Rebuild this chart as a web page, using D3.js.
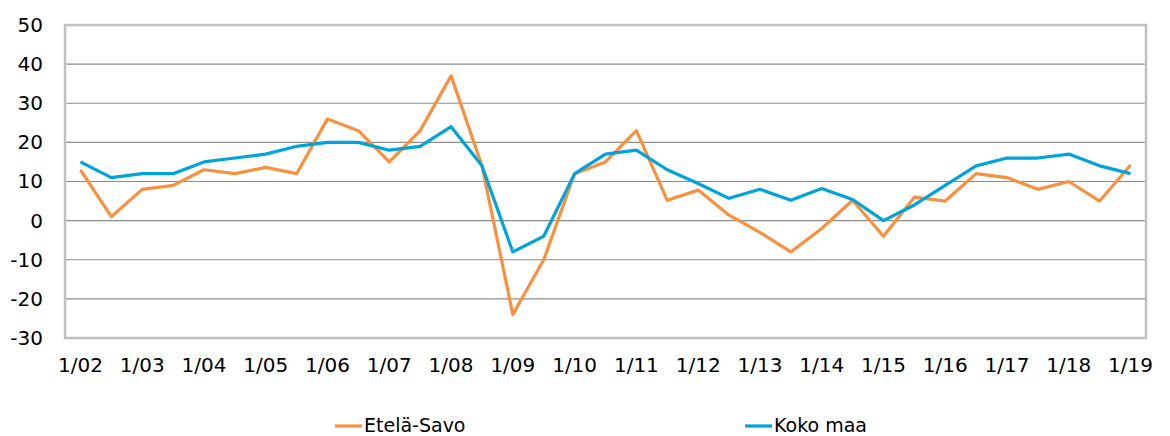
<!DOCTYPE html>
<html>
<head>
<meta charset="utf-8">
<script src="https://cdn.jsdelivr.net/npm/d3@7"></script>
<style>
  body { margin: 0; background: #fff; }
  text { font-family: "DejaVu Sans", sans-serif; fill: #000; }
</style>
</head>
<body>
<div id="chart"></div>
<script>
// half-year periods 1/02 ... 1/19
const years = ["02","03","04","05","06","07","08","09","10","11","12","13","14","15","16","17","18","19"];
const periods = [];
years.forEach((y, i) => {
    periods.push("1/" + y);
    if (i < years.length - 1) periods.push("7/" + y);
});
const tickLabels = years.map(y => "1/" + y);

const etelaSavo = [13, 1, 8, 9, 13, 12, 13.6, 12, 26, 23, 15, 23, 37, 14, -24, -10, 12, 15, 23, 5.2,
    7.8, 1.4, -3, -8, -2, 5.2, -4, 6, 5, 12, 11, 8, 10, 5, 14.2];
const kokoMaa = [15, 11, 12, 12, 15, 16, 17, 19, 20, 20, 18, 19, 24, 14, -8, -4, 12, 17, 18, 13,
    9.5, 5.7, 8, 5.2, 8.2, 5.4, 0, 4, 9, 14, 16, 16, 17, 14, 12];

const series = [
    { name: "Etelä-Savo", values: etelaSavo, color: "#F7913F" },
    { name: "Koko maa", values: kokoMaa, color: "#00A3DA" }
];

const width = 1170, height = 436;
const margin = { top: 25, right: 24, bottom: 98, left: 65 };

const svg = d3.select("#chart").append("svg")
    .attr("width", width)
    .attr("height", height);

const x = d3.scaleBand()
    .domain(periods)
    .range([margin.left, width - margin.right]);

const y = d3.scaleLinear()
    .domain([-30, 50])
    .range([height - margin.bottom, margin.top]);

// gridlines
svg.append("g")
    .selectAll("line")
    .data(y.ticks(8))
    .join("line")
    .attr("x1", margin.left)
    .attr("x2", width - margin.right)
    .attr("y1", d => y(d))
    .attr("y2", d => y(d))
    .attr("stroke", "#8c8c8c")
    .attr("stroke-width", 1.2);

// plot border
svg.append("rect")
    .attr("x", margin.left)
    .attr("y", margin.top)
    .attr("width", width - margin.right - margin.left)
    .attr("height", height - margin.bottom - margin.top)
    .attr("fill", "none")
    .attr("stroke", "#c0c0c0")
    .attr("stroke-width", 2.5);

// y axis labels (plain hyphen for negatives, as in the original)
const yAxis = d3.axisLeft(y).ticks(8).tickSize(0).tickPadding(22)
    .tickFormat(d => String(d));
const yg = svg.append("g")
    .attr("transform", `translate(${margin.left},0)`)
    .call(yAxis);
yg.select(".domain").remove();
yg.selectAll("text").style("font-size", "20px").attr("fill", "#000");

// x axis labels
const xAxis = d3.axisBottom(x)
    .tickValues(tickLabels)
    .tickSize(0)
    .tickPadding(20);
const xg = svg.append("g")
    .attr("transform", `translate(0,${height - margin.bottom})`)
    .call(xAxis);
xg.select(".domain").remove();
xg.selectAll("text").style("font-size", "20px").attr("fill", "#000");

// lines
const line = d3.line()
    .x((d, i) => x(periods[i]) + x.bandwidth() / 2)
    .y(d => y(d));

svg.append("g")
    .selectAll("path")
    .data(series)
    .join("path")
    .attr("d", d => line(d.values))
    .attr("fill", "none")
    .attr("stroke", d => d.color)
    .attr("stroke-width", 3.2)
    .attr("stroke-linejoin", "round");

// legend
const legendX = [335, 745];
const legend = svg.append("g")
    .selectAll("g")
    .data(series)
    .join("g")
    .attr("transform", (d, i) => `translate(${legendX[i]},425)`);
legend.append("line")
    .attr("x1", 0)
    .attr("x2", 27)
    .attr("y1", 1)
    .attr("y2", 1)
    .attr("stroke", d => d.color)
    .attr("stroke-width", 3.2);
legend.append("text")
    .attr("x", 29)
    .attr("dy", "0.35em")
    .style("font-size", "19px")
    .text(d => d.name);
</script>
</body>
</html>
